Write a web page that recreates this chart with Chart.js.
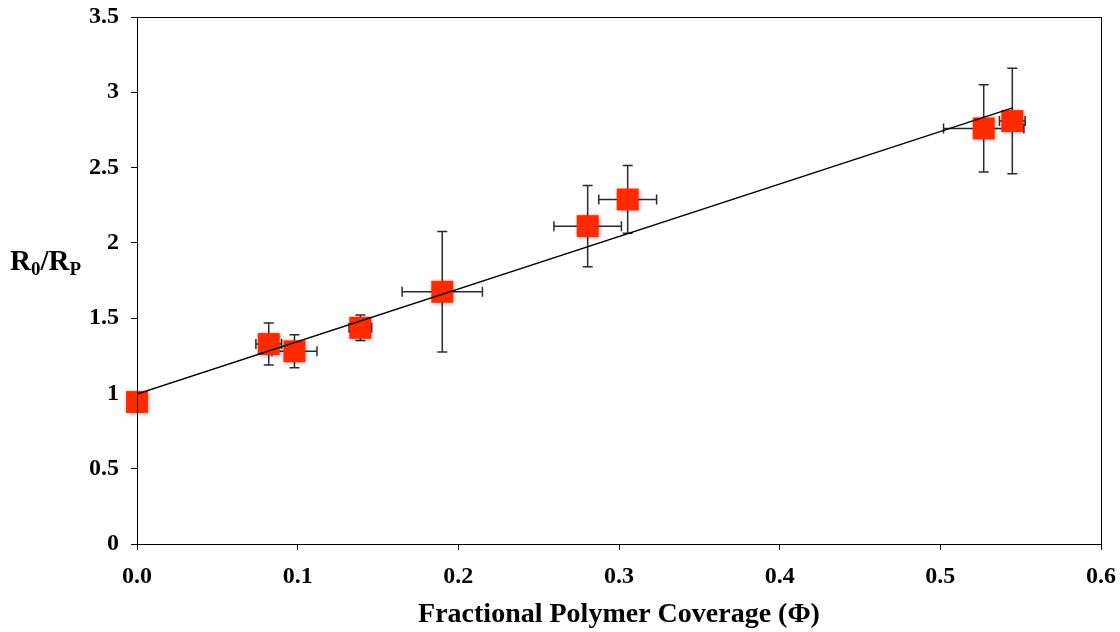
<!DOCTYPE html>
<html>
<head>
<meta charset="utf-8">
<script src="https://cdn.jsdelivr.net/npm/chart.js@4/dist/chart.umd.min.js"></script>
<style>
    html, body { margin: 0; padding: 0; background: #fff; }
    #wrap { width: 1120px; height: 632px; }
</style>
</head>
<body>
<div id="wrap"><canvas id="coverageChart" width="1120" height="632"></canvas></div>

<script>
    // values
    var phi      = [0.000, 0.082, 0.098, 0.139, 0.190, 0.2805, 0.3054, 0.527, 0.5448];
    var ratio    = [0.943, 1.328, 1.280, 1.436, 1.675, 2.111, 2.288, 2.760, 2.809];
    var phiErr   = [0.000, 0.008, 0.014, 0.007, 0.025, 0.021, 0.018, 0.025, 0.008];
    var ratioErr = [0.060, 0.140, 0.110, 0.085, 0.400, 0.270, 0.225, 0.290, 0.350];

    // linear fit line end points
    var fitX = [0.0, 0.545];
    var fitY = [0.996, 2.897];

    var xTicks = [0, 0.1, 0.2, 0.3, 0.4, 0.5, 0.6];
    var yTicks = [0, 0.5, 1, 1.5, 2, 2.5, 3, 3.5];

    var serif = "'Liberation Serif', 'Times New Roman', serif";

    var points = [];
    for (var i = 0; i < phi.length; i++) {
        points.push({x: phi[i], y: ratio[i]});
    }
    var fitPoints = [];
    for (var k = 0; k < fitX.length; k++) {
        fitPoints.push({x: fitX[k], y: fitY[k]});
    }

    // error bars, drawn under the markers
    var errorBars = {
        id: 'errorBars',
        beforeDatasetsDraw: function (chart) {
            var ctx = chart.ctx;
            var xs = chart.scales.x, ys = chart.scales.y;
            var cap = 5;
            ctx.save();
            ctx.strokeStyle = '#2b2b2b';
            ctx.lineWidth = 1.5;
            for (var j = 0; j < phi.length; j++) {
                var px = xs.getPixelForValue(phi[j]);
                var py = ys.getPixelForValue(ratio[j]);
                if (ratioErr[j] > 0) {
                    var top = ys.getPixelForValue(ratio[j] + ratioErr[j]);
                    var bot = ys.getPixelForValue(ratio[j] - ratioErr[j]);
                    ctx.beginPath();
                    ctx.moveTo(px, top); ctx.lineTo(px, bot);
                    ctx.moveTo(px - cap, top); ctx.lineTo(px + cap, top);
                    ctx.moveTo(px - cap, bot); ctx.lineTo(px + cap, bot);
                    ctx.stroke();
                }
                if (phiErr[j] > 0) {
                    var lft = xs.getPixelForValue(phi[j] - phiErr[j]);
                    var rgt = xs.getPixelForValue(phi[j] + phiErr[j]);
                    ctx.beginPath();
                    ctx.moveTo(lft, py); ctx.lineTo(rgt, py);
                    ctx.moveTo(lft, py - cap); ctx.lineTo(lft, py + cap);
                    ctx.moveTo(rgt, py - cap); ctx.lineTo(rgt, py + cap);
                    ctx.stroke();
                }
            }
            ctx.restore();
        },
        beforeDatasetDraw: function (chart, args) {
            if (args.index === 1) {
                var ctx = chart.ctx;
                ctx.save();
                ctx.shadowColor = 'rgba(0,0,0,0.35)';
                ctx.shadowBlur = 4;
                ctx.shadowOffsetX = 1;
                ctx.shadowOffsetY = 1;
            }
        },
        afterDatasetDraw: function (chart, args) {
            if (args.index === 1) {
                chart.ctx.restore();
            }
        }
    };

    // plot frame and the y axis title with subscripts
    var frameAndTitle = {
        id: 'frameAndTitle',
        afterDraw: function (chart) {
            var ctx = chart.ctx;
            var a = chart.chartArea;
            ctx.save();
            ctx.strokeStyle = '#000';
            ctx.lineWidth = 1;
            ctx.strokeRect(Math.round(a.left) + 0.5, Math.round(a.top) + 0.5,
                Math.round(a.right - a.left), Math.round(a.bottom - a.top));

            var big = 'bold 29px ' + serif;
            var small = 'bold 19px ' + serif;
            var x = 10, base = 270;
            ctx.fillStyle = '#000';
            ctx.textBaseline = 'alphabetic';
            ctx.textAlign = 'left';
            ctx.font = big;  ctx.fillText('R', x, base); x += ctx.measureText('R').width;
            ctx.font = small; ctx.fillText('0', x, base + 5); x += ctx.measureText('0').width;
            ctx.font = big;  ctx.fillText('/R', x, base); x += ctx.measureText('/R').width;
            ctx.font = small; ctx.fillText('P', x, base + 5);
            ctx.restore();
        }
    };

    var ctx = document.getElementById('coverageChart').getContext('2d');
    var coverageChart = new Chart(ctx, {
        type: 'scatter',
        data: {
            datasets: [{
                type: 'line',
                data: fitPoints,
                borderColor: '#000',
                borderWidth: 1.3,
                pointRadius: 0,
                fill: false,
                order: 0
            }, {
                data: points,
                pointStyle: 'rect',
                pointRadius: 15.5,
                pointHoverRadius: 15.5,
                backgroundColor: '#ff2a00',
                borderColor: '#ff2a00',
                borderWidth: 0,
                clip: false,
                order: 1
            }]
        },
        options: {
            responsive: false,
            animation: false,
            layout: { padding: { top: 17, right: 19, left: 0, bottom: 0 } },
            plugins: {
                legend: { display: false },
                tooltip: { enabled: false }
            },
            scales: {
                x: {
                    type: 'linear',
                    min: 0,
                    max: 0.6,
                    afterBuildTicks: function (scale) {
                        scale.ticks = xTicks.map(function (v) { return {value: v}; });
                    },
                    afterFit: function (scale) {
                        scale.height = 88;
                        scale.paddingLeft = 0;
                        scale.paddingRight = 0;
                    },
                    grid: { drawOnChartArea: false, drawTicks: true, tickLength: 6, color: '#000' },
                    border: { display: true, color: '#000', width: 1 },
                    ticks: {
                        color: '#000',
                        padding: 12,
                        font: { family: serif, size: 24, weight: 'bold' },
                        callback: function (v) { return Number(v).toFixed(1); }
                    },
                    title: {
                        display: true,
                        text: 'Fractional Polymer Coverage (Φ)',
                        color: '#000',
                        padding: 0,
                        font: { family: serif, size: 28, weight: 'bold' }
                    }
                },
                y: {
                    type: 'linear',
                    min: 0,
                    max: 3.5,
                    afterBuildTicks: function (scale) {
                        scale.ticks = yTicks.map(function (v) { return {value: v}; });
                    },
                    afterFit: function (scale) {
                        scale.width = 137;
                        scale.paddingTop = 0;
                        scale.paddingBottom = 0;
                    },
                    grid: { drawOnChartArea: false, drawTicks: true, tickLength: 6, color: '#000' },
                    border: { display: true, color: '#000', width: 1 },
                    ticks: {
                        color: '#000',
                        padding: 12,
                        font: { family: serif, size: 24, weight: 'bold' },
                        callback: function (v) { return String(v); }
                    }
                }
            }
        },
        plugins: [errorBars, frameAndTitle]
    });
</script>
</body>
</html>
